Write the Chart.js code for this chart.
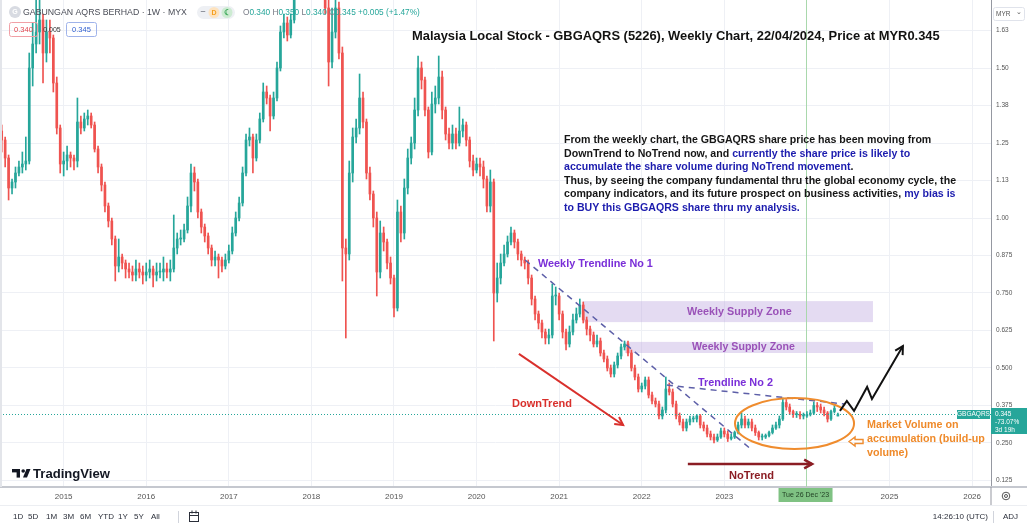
<!DOCTYPE html>
<html>
<head>
<meta charset="utf-8">
<script src="https://cdn.jsdelivr.net/npm/chart.js@4.4.1/dist/chart.umd.min.js"></script>
<style>
  html, body { margin: 0; padding: 0; background: #fff; overflow: hidden; }
  canvas { display: block; }
</style>
</head>
<body>
<canvas id="myChart" width="1027" height="526"></canvas>
<script>
// half-month periods from Apr 2014, axis runs on to 2026
const periods = [];
for (let k = 0; k < 288; k++) {
  const m = 3 + Math.floor(k / 2);
  periods.push((2014 + Math.floor(m / 12)) + '-' + String(m % 12 + 1).padStart(2, '0') + (k % 2 ? '-16' : '-01'));
}

const yearLabels = ['2015', '2016', '2017', '2018', '2019', '2020', '2021', '2022', '2023', '2025', '2026'];
const priceTicks = [0.125, 0.25, 0.375, 0.5, 0.625, 0.75, 0.875, 1.0, 1.125, 1.25, 1.375, 1.5, 1.625];

const opens = [
  1.29,1.26,1.20,1.10,1.12,1.15,1.17,1.18,1.19,1.50,
  1.58,1.62,1.66,1.55,1.62,1.60,1.45,1.30,1.18,1.19,
  1.21,1.20,1.19,1.32,1.30,1.33,1.34,1.31,1.23,1.17,
  1.11,1.04,0.99,0.93,0.84,0.87,0.85,0.83,0.82,0.81,
  0.83,0.82,0.81,0.82,0.83,0.81,0.82,0.82,0.83,0.82,
  0.83,0.90,0.93,0.93,0.96,1.04,1.15,1.12,1.02,0.97,
  0.94,0.90,0.86,0.87,0.86,0.84,0.86,0.89,0.95,1.00,
  1.05,1.15,1.26,1.27,1.20,1.26,1.33,1.42,1.40,1.34,
  1.40,1.50,1.62,1.65,1.61,1.66,1.78,1.85,1.92,1.88,
  1.95,1.90,1.86,1.82,1.80,1.70,1.52,1.62,1.70,1.55,
  0.90,0.88,1.15,1.27,1.30,1.40,1.32,1.15,1.08,1.00,
  0.82,0.95,0.92,0.85,0.80,0.70,1.02,0.95,1.10,1.20,
  1.25,1.36,1.50,1.46,1.36,1.22,1.38,1.40,1.47,1.36,
  1.28,1.25,1.28,1.25,1.29,1.31,1.26,1.19,1.16,1.18,
  1.17,1.13,1.04,1.12,0.75,0.80,0.85,0.88,0.92,0.95,
  0.92,0.88,0.86,0.85,0.80,0.73,0.68,0.65,0.62,0.60,
  0.61,0.74,0.74,0.68,0.62,0.58,0.62,0.66,0.68,0.71,
  0.66,0.63,0.61,0.58,0.59,0.55,0.53,0.50,0.48,0.51,
  0.54,0.57,0.58,0.55,0.50,0.47,0.43,0.44,0.46,0.41,
  0.39,0.38,0.34,0.36,0.43,0.42,0.38,0.34,0.32,0.30,
  0.32,0.33,0.33,0.34,0.31,0.30,0.28,0.27,0.26,0.27,
  0.29,0.28,0.265,0.27,0.285,0.31,0.33,0.31,0.32,0.30,
  0.285,0.27,0.27,0.275,0.285,0.30,0.31,0.33,0.385,0.37,
  0.355,0.345,0.345,0.34,0.34,0.345,0.35,0.375,0.37,0.36,
  0.35,0.33,0.355,0.34
];
const highs = [
  1.31,1.27,1.21,1.13,1.17,1.19,1.22,1.27,1.55,1.65,
  1.74,1.74,1.68,1.66,1.66,1.61,1.47,1.31,1.22,1.24,
  1.22,1.21,1.40,1.34,1.35,1.36,1.35,1.32,1.24,1.18,
  1.12,1.05,1.00,0.94,0.93,0.88,0.86,0.85,0.84,0.86,
  0.85,0.84,0.85,0.86,0.84,0.85,0.85,0.87,0.85,0.86,
  1.01,0.95,0.96,0.98,1.07,1.18,1.17,1.13,1.03,0.98,
  0.95,0.91,0.89,0.88,0.87,0.88,0.91,0.97,1.02,1.07,
  1.17,1.28,1.30,1.28,1.28,1.35,1.45,1.44,1.41,1.42,
  1.52,1.64,1.68,1.67,1.68,1.80,1.88,1.95,1.96,1.98,
  1.97,1.93,1.88,1.85,1.82,1.73,1.70,1.74,1.72,1.57,
  0.93,1.19,1.30,1.33,1.48,1.42,1.33,1.17,1.09,1.02,
  0.99,0.97,0.93,0.87,0.81,1.06,1.04,1.13,1.23,1.27,
  1.40,1.54,1.52,1.47,1.37,1.42,1.44,1.54,1.49,1.37,
  1.30,1.31,1.30,1.37,1.33,1.32,1.27,1.21,1.20,1.20,
  1.19,1.14,1.16,1.13,0.85,0.88,0.91,0.94,0.97,0.96,
  0.93,0.89,0.87,0.86,0.81,0.74,0.69,0.66,0.63,0.63,
  0.78,0.77,0.75,0.69,0.63,0.64,0.68,0.70,0.73,0.72,
  0.67,0.64,0.62,0.61,0.60,0.56,0.54,0.51,0.52,0.55,
  0.58,0.59,0.59,0.56,0.51,0.48,0.45,0.47,0.47,0.42,
  0.40,0.39,0.37,0.47,0.45,0.43,0.39,0.35,0.33,0.33,
  0.34,0.34,0.345,0.345,0.32,0.31,0.29,0.28,0.28,0.30,
  0.30,0.29,0.28,0.29,0.32,0.35,0.34,0.33,0.33,0.31,
  0.29,0.28,0.28,0.29,0.31,0.32,0.34,0.40,0.395,0.38,
  0.36,0.355,0.355,0.35,0.355,0.36,0.387,0.385,0.38,0.37,
  0.355,0.36,0.375,0.35
];
const lows = [
  1.22,1.17,1.06,1.08,1.10,1.14,1.15,1.16,1.18,1.44,
  1.55,1.58,1.45,1.52,1.55,1.42,1.28,1.15,1.14,1.16,
  1.17,1.16,1.17,1.28,1.29,1.31,1.30,1.22,1.15,1.09,
  1.02,0.97,0.91,0.79,0.82,0.83,0.80,0.80,0.79,0.79,
  0.80,0.78,0.79,0.80,0.77,0.79,0.80,0.79,0.80,0.79,
  0.82,0.88,0.91,0.92,0.95,1.02,1.09,1.00,0.95,0.92,
  0.88,0.84,0.84,0.80,0.82,0.83,0.85,0.88,0.94,0.99,
  1.04,1.14,1.24,1.15,1.19,1.25,1.32,1.38,1.29,1.33,
  1.39,1.49,1.60,1.59,1.60,1.65,1.76,1.83,1.86,1.86,
  1.88,1.84,1.80,1.77,1.68,1.44,1.50,1.60,1.53,0.79,
  0.60,0.86,1.12,1.25,1.28,1.30,1.13,1.06,0.97,0.74,
  0.80,0.89,0.83,0.78,0.67,0.69,0.92,0.93,1.08,1.18,
  1.23,1.34,1.43,1.34,1.20,1.21,1.35,1.38,1.33,1.26,
  1.23,1.23,1.23,1.24,1.27,1.24,1.17,1.14,1.15,1.14,
  1.10,1.02,1.02,0.59,0.72,0.78,0.84,0.87,0.91,0.90,
  0.86,0.84,0.83,0.78,0.71,0.66,0.63,0.60,0.58,0.58,
  0.60,0.71,0.66,0.60,0.56,0.57,0.61,0.65,0.67,0.65,
  0.61,0.59,0.57,0.57,0.54,0.52,0.49,0.47,0.47,0.50,
  0.53,0.56,0.54,0.49,0.46,0.42,0.42,0.43,0.40,0.38,
  0.37,0.33,0.33,0.35,0.41,0.37,0.33,0.31,0.29,0.29,
  0.31,0.32,0.32,0.30,0.29,0.27,0.26,0.25,0.255,0.265,
  0.27,0.255,0.26,0.265,0.28,0.30,0.30,0.30,0.29,0.275,
  0.26,0.26,0.265,0.27,0.28,0.295,0.30,0.325,0.36,0.345,
  0.335,0.335,0.33,0.33,0.335,0.34,0.345,0.355,0.35,0.34,
  0.32,0.325,0.35,0.34
];
const closes = [
  1.26,1.20,1.10,1.12,1.15,1.17,1.18,1.19,1.50,1.58,
  1.62,1.66,1.55,1.62,1.60,1.45,1.30,1.18,1.19,1.21,
  1.20,1.19,1.32,1.30,1.33,1.34,1.31,1.23,1.17,1.11,
  1.04,0.99,0.93,0.84,0.87,0.85,0.83,0.82,0.81,0.83,
  0.82,0.81,0.82,0.83,0.81,0.82,0.82,0.83,0.82,0.83,
  0.90,0.93,0.93,0.96,1.04,1.15,1.12,1.02,0.97,0.94,
  0.90,0.86,0.87,0.86,0.84,0.86,0.89,0.95,1.00,1.05,
  1.15,1.26,1.27,1.20,1.26,1.33,1.42,1.40,1.34,1.40,
  1.50,1.62,1.65,1.61,1.66,1.78,1.85,1.92,1.88,1.95,
  1.90,1.86,1.82,1.80,1.70,1.52,1.62,1.70,1.55,0.90,
  0.88,1.15,1.27,1.30,1.40,1.32,1.15,1.08,1.00,0.82,
  0.95,0.92,0.85,0.80,0.70,1.02,0.95,1.10,1.20,1.25,
  1.36,1.50,1.46,1.36,1.22,1.38,1.40,1.47,1.36,1.28,
  1.25,1.28,1.25,1.29,1.31,1.26,1.19,1.16,1.18,1.17,
  1.13,1.04,1.12,0.75,0.80,0.85,0.88,0.92,0.95,0.92,
  0.88,0.86,0.85,0.80,0.73,0.68,0.65,0.62,0.60,0.61,
  0.74,0.74,0.68,0.62,0.58,0.62,0.66,0.68,0.71,0.66,
  0.63,0.61,0.58,0.59,0.55,0.53,0.50,0.48,0.51,0.54,
  0.57,0.58,0.55,0.50,0.47,0.43,0.44,0.46,0.41,0.39,
  0.38,0.34,0.36,0.43,0.42,0.38,0.34,0.32,0.30,0.32,
  0.33,0.33,0.34,0.31,0.30,0.28,0.27,0.26,0.27,0.29,
  0.28,0.265,0.27,0.285,0.31,0.33,0.31,0.32,0.30,0.285,
  0.27,0.27,0.275,0.285,0.30,0.31,0.33,0.385,0.37,0.355,
  0.345,0.345,0.34,0.34,0.345,0.35,0.375,0.37,0.36,0.35,
  0.33,0.355,0.365,0.345
];

// drawings, in chart units (period index, price)
const trendline1 = [[152.1, 0.86], [218.0, 0.227]];
const trendline2 = [[193.3, 0.443], [245.1, 0.38]];
const supplyZones = [[168.9, 253.2, 0.653, 0.723], [181.1, 253.2, 0.55, 0.587]];
const downArrow = [[150.3, 0.547], [180.6, 0.31]];
const noTrendArrow = [[199.4, 0.18], [235.5, 0.18]];
const accumEllipse = [230.4, 0.315, 17.3, 0.085];
const bullPath = [[243.6, 0.357], [245.6, 0.39], [247.7, 0.357], [251.5, 0.437], [252.9, 0.397], [261.9, 0.573]];
const crossIndex = 233.6;
const lastPrice = 0.345;

const SANS = '"Liberation Sans", Arial, sans-serif';
const UP = '#26a69a', DOWN = '#ef5350', GRID = '#eef0f5';
const candleColors = closes.map((c, i) => c >= opens[i] ? UP : DOWN);

function yearOf(i) {
  const p = periods[i];
  if (!p || !p.endsWith('-01-01')) return '';
  return yearLabels.includes(p.slice(0, 4)) ? p.slice(0, 4) : '';
}
function isYearLine(i) {
  const p = periods[i];
  return !!p && p.endsWith('-01-01');
}

function fitSize(ctx, text, width, weight, family) {
  ctx.font = weight + ' 20px ' + family;
  return 20 * width / ctx.measureText(text).width;
}
function txt(ctx, text, x, y, size, color, weight, align) {
  ctx.font = (weight || 'normal') + ' ' + size + 'px ' + SANS;
  ctx.fillStyle = color;
  ctx.textAlign = align || 'left';
  ctx.textBaseline = 'middle';
  ctx.fillText(text, x, y);
}
function fitTxt(ctx, text, x, y, width, color, weight) {
  const s = fitSize(ctx, text, width, weight || 'bold', SANS);
  txt(ctx, text, x, y, s, color, weight || 'bold');
  return s;
}
function arrow(ctx, x1, y1, x2, y2, color, lw, head) {
  const a = Math.atan2(y2 - y1, x2 - x1);
  ctx.strokeStyle = color; ctx.lineWidth = lw; ctx.setLineDash([]);
  ctx.beginPath(); ctx.moveTo(x1, y1); ctx.lineTo(x2, y2); ctx.stroke();
  ctx.beginPath();
  ctx.moveTo(x2 - head * Math.cos(a - 0.5), y2 - head * Math.sin(a - 0.5));
  ctx.lineTo(x2, y2);
  ctx.lineTo(x2 - head * Math.cos(a + 0.5), y2 - head * Math.sin(a + 0.5));
  ctx.stroke();
}
function rrect(ctx, x, y, w, h, r) {
  ctx.beginPath();
  ctx.roundRect(x, y, w, h, r);
}

const drawings = {
  id: 'drawings',
  beforeDatasetsDraw(chart) {
    const ctx = chart.ctx, X = chart.scales.x, Y = chart.scales.y;
    ctx.save();
    ctx.fillStyle = 'rgba(190, 170, 225, 0.42)';
    supplyZones.forEach(z => {
      const x1 = X.getPixelForValue(z[0]), x2 = X.getPixelForValue(z[1]);
      const y1 = Y.getPixelForValue(z[3]), y2 = Y.getPixelForValue(z[2]);
      ctx.fillRect(x1, y1, x2 - x1, y2 - y1);
    });
    // crosshair
    const cx = Math.round(X.getPixelForValue(crossIndex)) + 0.5;
    ctx.strokeStyle = '#a9d8ac'; ctx.lineWidth = 1;
    ctx.beginPath(); ctx.moveTo(cx, 0); ctx.lineTo(cx, chart.chartArea.bottom); ctx.stroke();
    ctx.restore();
  },
  afterDatasetsDraw(chart) {
    const ctx = chart.ctx, X = chart.scales.x, Y = chart.scales.y, a = chart.chartArea;
    const P = p => [X.getPixelForValue(p[0]), Y.getPixelForValue(p[1])];
    ctx.save();
    // last price line
    const ly = Math.round(Y.getPixelForValue(lastPrice)) + 0.5;
    ctx.strokeStyle = UP; ctx.lineWidth = 1; ctx.setLineDash([1, 2]);
    ctx.beginPath(); ctx.moveTo(a.left, ly); ctx.lineTo(a.right, ly); ctx.stroke();
    // trendlines
    ctx.strokeStyle = '#5d5fa8'; ctx.lineWidth = 1.5; ctx.setLineDash([6, 5]);
    [trendline1, trendline2].forEach(t => {
      const p1 = P(t[0]), p2 = P(t[1]);
      ctx.beginPath(); ctx.moveTo(p1[0], p1[1]); ctx.lineTo(p2[0], p2[1]); ctx.stroke();
    });
    ctx.setLineDash([]);
    // trend arrows
    let p1 = P(downArrow[0]), p2 = P(downArrow[1]);
    arrow(ctx, p1[0], p1[1], p2[0], p2[1], '#d9302c', 2, 9);
    p1 = P(noTrendArrow[0]); p2 = P(noTrendArrow[1]);
    arrow(ctx, p1[0], p1[1], p2[0], p2[1], '#8b1d24', 2.5, 9);
    // accumulation ellipse
    const ec = P([accumEllipse[0], accumEllipse[1]]);
    const rx = X.getPixelForValue(accumEllipse[0] + accumEllipse[2]) - ec[0];
    const ry = Y.getPixelForValue(accumEllipse[1] - accumEllipse[3]) - ec[1];
    ctx.strokeStyle = '#ef8c2e'; ctx.lineWidth = 2;
    ctx.beginPath(); ctx.ellipse(ec[0], ec[1], rx, ry, 0, 0, Math.PI * 2); ctx.stroke();
    // hollow arrow pointing at ellipse
    const hx = ec[0] + rx - 5, hy = ec[1] + 18;
    ctx.lineWidth = 1.4;
    ctx.beginPath();
    ctx.moveTo(hx, hy); ctx.lineTo(hx + 6, hy - 4.5); ctx.lineTo(hx + 6, hy - 2);
    ctx.lineTo(hx + 14, hy - 2); ctx.lineTo(hx + 14, hy + 2); ctx.lineTo(hx + 6, hy + 2);
    ctx.lineTo(hx + 6, hy + 4.5); ctx.closePath(); ctx.stroke();
    // projected move
    ctx.strokeStyle = '#111'; ctx.lineWidth = 2; ctx.lineJoin = 'miter';
    ctx.beginPath();
    bullPath.forEach((p, i) => { const q = P(p); i ? ctx.lineTo(q[0], q[1]) : ctx.moveTo(q[0], q[1]); });
    ctx.stroke();
    const e1 = P(bullPath[bullPath.length - 2]), e2 = P(bullPath[bullPath.length - 1]);
    const ang = Math.atan2(e2[1] - e1[1], e2[0] - e1[0]);
    ctx.beginPath();
    ctx.moveTo(e2[0] - 9 * Math.cos(ang - 0.5), e2[1] - 9 * Math.sin(ang - 0.5));
    ctx.lineTo(e2[0], e2[1]);
    ctx.lineTo(e2[0] - 9 * Math.cos(ang + 0.5), e2[1] - 9 * Math.sin(ang + 0.5));
    ctx.stroke();
    ctx.restore();
  },
  afterDraw(chart) {
    const ctx = chart.ctx, a = chart.chartArea, X = chart.scales.x, Y = chart.scales.y;
    ctx.save();
    // panel edges
    ctx.fillStyle = '#e3e5ea'; ctx.fillRect(0, 0, 2, a.bottom);
    ctx.fillStyle = '#c5c8cf'; ctx.fillRect(a.right, a.bottom - 1, 1027 - a.right, 2);
    ctx.fillStyle = '#eceef2'; ctx.fillRect(0, 505, 1027, 1);
    ctx.fillStyle = '#9598a1'; ctx.fillRect(a.right - 0.5, a.bottom, 1, 18);

    // header
    ctx.fillStyle = '#d8dbe2';
    ctx.beginPath(); ctx.arc(15, 12, 6, 0, Math.PI * 2); ctx.fill();
    txt(ctx, 'G', 15, 12.5, 7, '#fff', 'bold', 'center');
    fitTxt(ctx, 'GABUNGAN AQRS BERHAD · 1W · MYX', 23, 12.5, 164, '#4a4d57', 'normal');
    ctx.fillStyle = '#eef0f4'; rrect(ctx, 197, 6, 38, 13, 6.5); ctx.fill();
    txt(ctx, '–', 203, 12, 9, '#8a8d96', 'bold', 'center');
    ctx.fillStyle = '#fde3c0'; ctx.beginPath(); ctx.arc(214, 12.5, 5.5, 0, Math.PI * 2); ctx.fill();
    txt(ctx, 'D', 214, 13, 7, '#f59f1e', 'bold', 'center');
    ctx.fillStyle = '#cdebd2'; ctx.beginPath(); ctx.arc(227, 12.5, 5.5, 0, Math.PI * 2); ctx.fill();
    txt(ctx, '☾', 227, 13, 8, '#3aa657', 'bold', 'center');
    const ohlc = [['O', '#787b86'], ['0.340 ', UP], ['H', '#787b86'], ['0.350 ', UP], ['L', '#787b86'], ['0.340 ', UP],
                  ['C', '#787b86'], ['0.345 +0.005 (+1.47%)', UP]];
    const os = fitSize(ctx, ohlc.map(s => s[0]).join(''), 177, 'normal', SANS);
    let ox = 243;
    ohlc.forEach(s => { txt(ctx, s[0], ox, 12.5, os, s[1], 'normal'); ox += ctx.measureText(s[0]).width; });
    ctx.lineWidth = 1;
    ctx.strokeStyle = '#f1a0a6'; rrect(ctx, 9.5, 22.5, 28, 14, 2); ctx.stroke();
    txt(ctx, '0.340', 23.5, 30, 7.5, '#e2464f', 'normal', 'center');
    txt(ctx, '0.005', 52, 30, 7, '#333', 'normal', 'center');
    ctx.strokeStyle = '#9fb3ea'; rrect(ctx, 66.5, 22.5, 30, 14, 2); ctx.stroke();
    txt(ctx, '0.345', 81.5, 30, 7.5, '#2f5fd0', 'normal', 'center');

    // title and commentary
    fitTxt(ctx, 'Malaysia Local Stock - GBGAQRS (5226), Weekly Chart, 22/04/2024, Price at MYR0.345', 412, 36, 528, '#111');
    const K = '#161616', B = '#1c1cae';
    const para = [
      [['From the weekly chart, the GBGAQRS share price has been moving from', K]],
      [['DownTrend to NoTrend now, and ', K], ['currently the share price is likely to', B]],
      [['accumulate the share volume during NoTrend movement', B], ['.', K]],
      [['Thus, by seeing the company fundamental thru the global economy cycle, the', K]],
      [['company indicators, and its future prospect on business activities, ', K], ['my bias is', B]],
      [['to BUY this GBGAQRS share thru my analysis.', B]]
    ];
    const ps = fitSize(ctx, para[0][0][0], 368, 'bold', SANS);
    para.forEach((line, li) => {
      let x = 564;
      line.forEach(seg => { txt(ctx, seg[0], x, 140 + li * 13.6, ps, seg[1], 'bold'); x += ctx.measureText(seg[0]).width; });
    });

    // annotation labels
    fitTxt(ctx, 'Weekly Trendline No 1', 538, 263.5, 115, '#7a2fd8');
    fitTxt(ctx, 'Trendline No 2', 698, 383, 75, '#7a2fd8');
    fitTxt(ctx, 'Weekly Supply Zone', 687, 312, 105, '#9a52b8');
    fitTxt(ctx, 'Weekly Supply Zone', 692, 347, 103, '#9a52b8');
    fitTxt(ctx, 'DownTrend', 512, 403.5, 60, '#d9302c');
    fitTxt(ctx, 'NoTrend', 729, 476, 45, '#8b1d24');
    const ms = fitSize(ctx, 'accumulation (build-up', 118, 'bold', SANS);
    txt(ctx, 'Market Volume on', 867, 425, ms, '#ef8a2a', 'bold');
    txt(ctx, 'accumulation (build-up', 867, 439, ms, '#ef8a2a', 'bold');
    txt(ctx, 'volume)', 867, 453, ms, '#ef8a2a', 'bold');

    // price scale extras
    const ly = Y.getPixelForValue(lastPrice);
    ctx.fillStyle = UP;
    ctx.fillRect(957, ly - 4.5, 33, 9);
    ctx.fillRect(a.right, ly - 6.5, 1027 - a.right, 26);
    txt(ctx, 'GBGAQRS', 973.5, ly, 6.5, '#fff', 'normal', 'center');
    txt(ctx, '0.345', 995, ly, 6.5, '#fff', 'normal');
    txt(ctx, '-73.07%', 995, ly + 8, 6.5, '#fff', 'normal');
    txt(ctx, '3d 19h', 995, ly + 16, 6.5, '#fff', 'normal');
    ctx.strokeStyle = '#e0e3eb'; ctx.lineWidth = 1;
    rrect(ctx, 993.5, 7.5, 31, 13, 2); ctx.stroke();
    txt(ctx, 'MYR', 996, 14, 6.5, '#555', 'normal');
    txt(ctx, '⌄', 1019, 12, 7, '#555', 'normal', 'center');

    // crosshair time label
    const cx = X.getPixelForValue(crossIndex);
    ctx.fillStyle = '#7fc283';
    ctx.fillRect(cx - 27, 488, 54, 14);
    txt(ctx, "Tue 26 Dec '23", cx, 495.5, 7, '#1f3d22', 'normal', 'center');
    // settings gear
    ctx.strokeStyle = '#555'; ctx.lineWidth = 1;
    ctx.beginPath(); ctx.arc(1006, 496, 3.8, 0, Math.PI * 2); ctx.stroke();
    ctx.beginPath(); ctx.arc(1006, 496, 1.5, 0, Math.PI * 2); ctx.stroke();

    // logo
    ctx.fillStyle = '#131722';
    ctx.fillRect(12, 469, 8, 3.4);
    ctx.fillRect(16.6, 469, 3.4, 8.6);
    ctx.beginPath(); ctx.arc(23.2, 471, 1.8, 0, Math.PI * 2); ctx.fill();
    ctx.beginPath(); ctx.moveTo(26.5, 469); ctx.lineTo(30.5, 469); ctx.lineTo(27, 477.6); ctx.lineTo(23, 477.6); ctx.closePath(); ctx.fill();
    fitTxt(ctx, 'TradingView', 33, 474, 77, '#131722');

    // bottom toolbar
    [['1D', 13], ['5D', 28], ['1M', 46], ['3M', 63], ['6M', 80], ['YTD', 98], ['1Y', 118], ['5Y', 134], ['All', 151]]
      .forEach(b => txt(ctx, b[0], b[1], 517, 8, '#2a2e39', 'normal'));
    ctx.fillStyle = '#d1d4dc'; ctx.fillRect(178, 511, 1, 12); ctx.fillRect(993, 511, 1, 12);
    ctx.strokeStyle = '#2a2e39'; ctx.lineWidth = 1;
    ctx.strokeRect(189.5, 512.5, 9, 9);
    ctx.beginPath(); ctx.moveTo(189.5, 515.5); ctx.lineTo(198.5, 515.5);
    ctx.moveTo(192, 510.5); ctx.lineTo(192, 513.5); ctx.moveTo(196, 510.5); ctx.lineTo(196, 513.5); ctx.stroke();
    txt(ctx, '14:26:10 (UTC)', 988, 517, 8, '#2a2e39', 'normal', 'right');
    txt(ctx, 'ADJ', 1003, 517, 8, '#2a2e39', 'normal');
    ctx.restore();
  }
};

const data = {
  labels: periods,
  datasets: [{
    label: 'wick',
    data: lows.map((l, i) => [l, highs[i]]),
    backgroundColor: candleColors,
    barThickness: 1,
    grouped: false,
    order: 2
  }, {
    label: 'body',
    data: opens.map((o, i) => [o, closes[i]]),
    backgroundColor: candleColors,
    barThickness: 2,
    minBarLength: 1,
    grouped: false,
    order: 1
  }]
};

const config = {
  type: 'bar',
  data: data,
  options: {
    responsive: false,
    animation: false,
    devicePixelRatio: 1,
    layout: { padding: { left: 0, right: 0, top: 0, bottom: 21 } },
    plugins: { legend: { display: false }, tooltip: { enabled: false } },
    scales: {
      x: {
        offset: true,
        grid: { offset: false, drawTicks: false, color: c => isYearLine(c.index) ? GRID : 'rgba(0,0,0,0)' },
        border: { color: '#c5c8cf', width: 2 },
        ticks: { autoSkip: false, maxRotation: 0, padding: 5, color: '#555', font: { size: 8, family: SANS },
                 callback: (v, i) => yearOf(i) },
        afterFit: s => { s.height = 18; s.paddingLeft = 0; s.paddingRight = 0; }
      },
      y: {
        position: 'right',
        min: 0.10333,
        max: 1.72667,
        grid: { color: GRID, drawTicks: false },
        border: { color: '#9598a1', width: 1 },
        afterBuildTicks: s => { s.ticks = priceTicks.map(v => ({ value: v })); },
        ticks: { padding: 5, color: '#555', font: { size: 6.5, family: SANS },
                 callback: v => v >= 1 ? v.toFixed(2) : v.toFixed(3) },
        afterFit: s => { s.width = 36; s.paddingTop = 0; s.paddingBottom = 0; }
      }
    }
  },
  plugins: [drawings]
};

const myChart = new Chart(document.getElementById('myChart'), config);
</script>
</body>
</html>
